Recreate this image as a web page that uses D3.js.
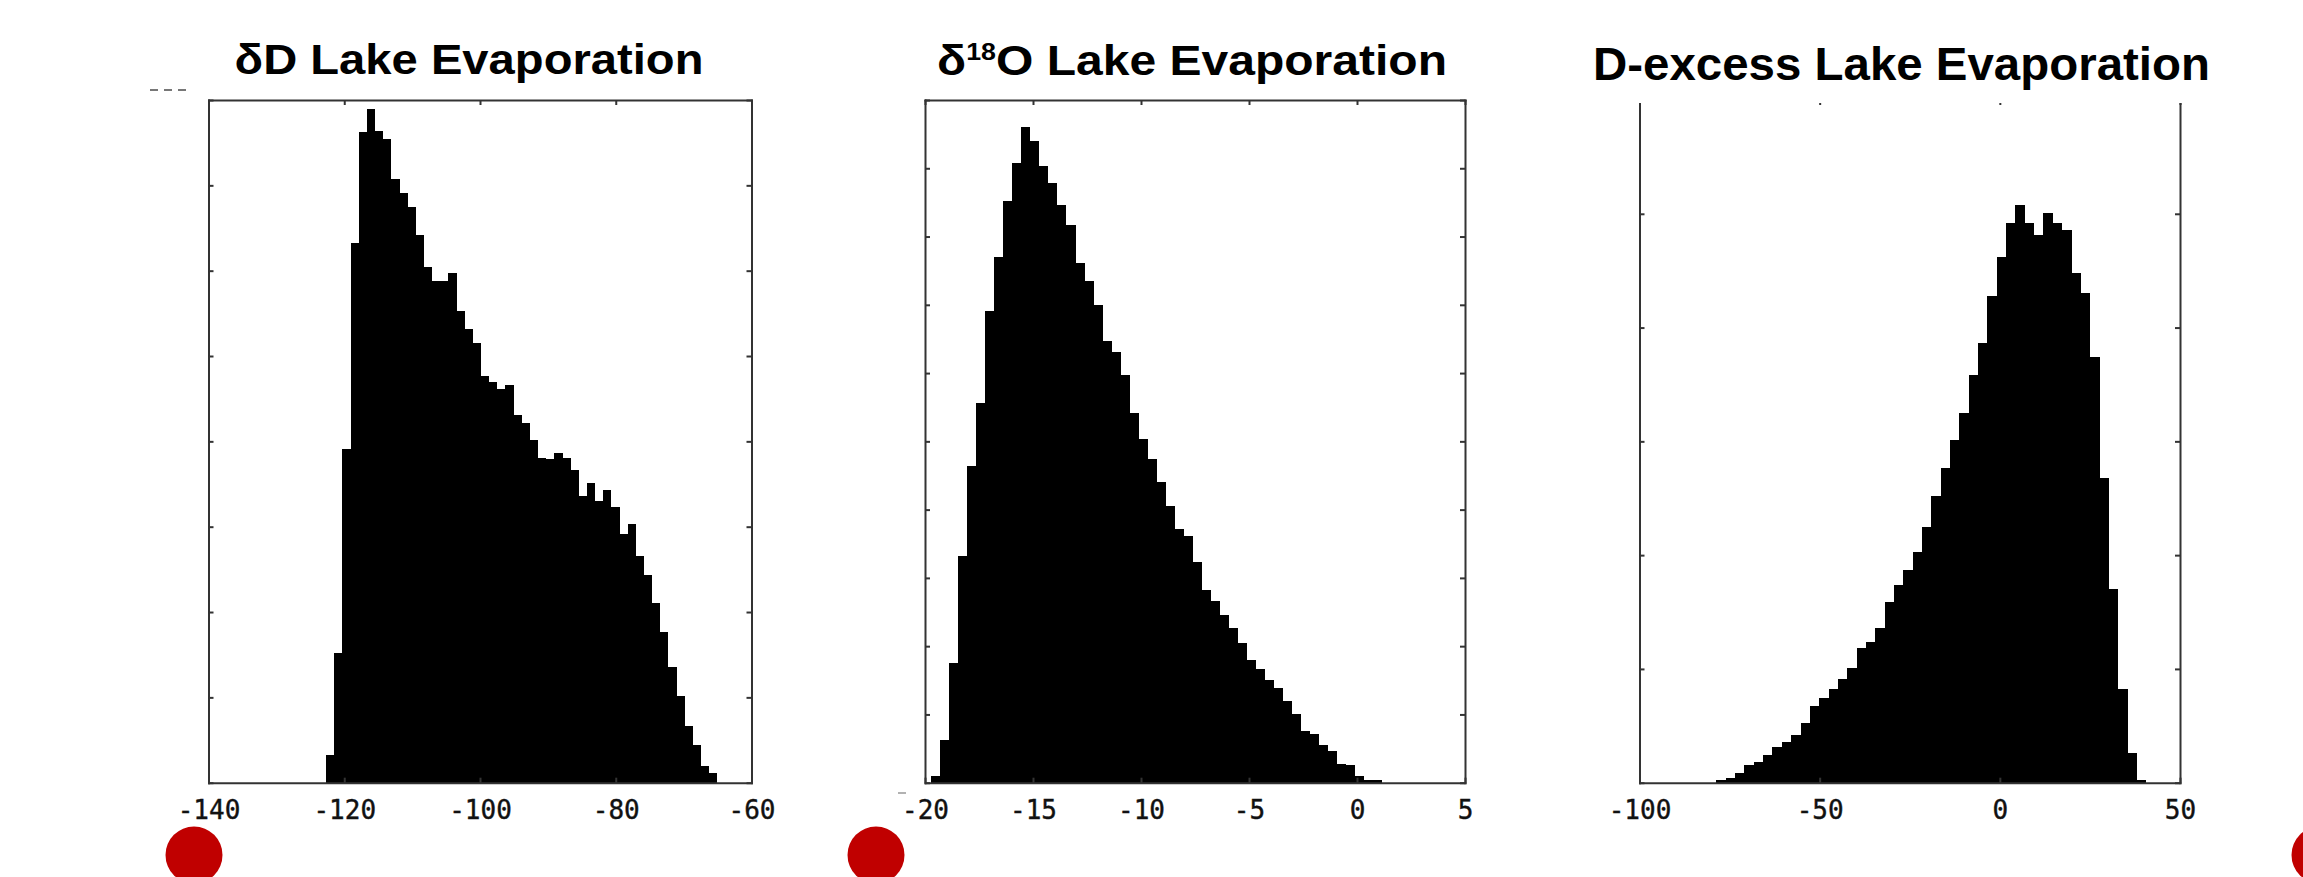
<!DOCTYPE html>
<html lang="en">
<head>
<meta charset="UTF-8">
<title>Lake Evaporation histograms</title>
<script src="https://cdn.jsdelivr.net/npm/d3@7"></script>
<style>
  body { margin: 0; background: #fff; }
  svg { display: block; }
</style>
</head>
<body>
<div id="chart"></div>
<script>
// ---- data (counts per bin) ----
var dDCounts = [320, 1520, 3910, 6320, 7620, 7890, 7640, 7540, 7070, 6910,
                6750, 6420, 6040, 5880, 5880, 5970, 5530, 5320, 5150, 4770,
                4700, 4610, 4660, 4310, 4210, 4020, 3810, 3790, 3860, 3810,
                3670, 3360, 3510, 3300, 3430, 3230, 2920, 3030, 2660, 2430,
                2100, 1770, 1350, 1020, 670, 440, 200, 110];
var dDBin = [-122.66, 1.2007];          // first edge, bin width
var dDXTicks = [-140, -120, -100, -80, -60];
var dDYTicks = [0, 1000, 2000, 3000, 4000, 5000, 6000, 7000, 8000];

var d18OCounts = [100, 630, 1750, 3320, 4640, 5560, 6910, 7700, 8520, 9070,
                  9600, 9400, 9040, 8780, 8460, 8170, 7610, 7350, 6990, 6470,
                  6310, 5970, 5420, 5030, 4740, 4410, 4060, 3710, 3620, 3240,
                  2820, 2660, 2460, 2270, 2040, 1800, 1660, 1510, 1390, 1190,
                  1010, 750, 720, 550, 470, 280, 260, 100, 40, 40];
var d18OBin = [-19.72, 0.418];
var d18OXTicks = [-20, -15, -10, -5, 0, 5];
var d18OYTicks = [0, 1000, 2000, 3000, 4000, 5000, 6000, 7000, 8000, 9000, 10000];

var dexCounts = [24, 44, 83, 156, 185, 243, 316, 360, 419, 522,
                 674, 747, 821, 909, 1011, 1186, 1239, 1362, 1591, 1740,
                 1870, 2030, 2244, 2522, 2768, 3014, 3246, 3580, 3861, 4279,
                 4617, 4916, 5074, 4916, 4810, 5003, 4916, 4860, 4480, 4300,
                 3740, 2680, 1700, 820, 260, 24];
var dexBin = [-78.66, 2.5935];
var dexXTicks = [-100, -50, 0, 50];
var dexYTicks = [0, 1000, 2000, 3000, 4000, 5000, 6000];

var width = 2303, height = 877;

var svg = d3.select("#chart")
            .append("svg")
            .attr("width", width)
            .attr("height", height);

svg.append("rect").attr("width", width).attr("height", height).attr("fill", "#fff");

function drawHist(p) {
    var x = d3.scaleLinear().domain(d3.extent(p.xTicks)).range([p.left, p.right]);
    var y = d3.scaleLinear().domain(d3.extent(p.yTicks)).range([p.bottom, p.top]);
    var g = svg.append("g");

    // bars
    g.selectAll("rect.bar")
        .data(p.counts)
        .enter().append("rect")
        .attr("class", "bar")
        .attr("x", function(d, i) { return x(p.bin[0] + i * p.bin[1]); })
        .attr("width", function(d, i) { return x(p.bin[0] + (i + 1) * p.bin[1]) - x(p.bin[0] + i * p.bin[1]); })
        .attr("y", function(d) { return y(d); })
        .attr("height", function(d) { return y(0) - y(d); })
        .attr("fill", "#000")
        .attr("shape-rendering", "crispEdges");

    var noLabel = function() { return ""; };

    // frame with inward ticks on all four sides
    var axes = [
        [d3.axisTop(x).tickValues(p.xTicks).tickFormat(noLabel), "translate(0," + p.top + ")"],
        [d3.axisLeft(y).tickValues(p.yTicks).tickFormat(noLabel), "translate(" + p.left + ",0)"],
        [d3.axisRight(y).tickValues(p.yTicks).tickFormat(noLabel), "translate(" + p.right + ",0)"],
        [d3.axisBottom(x).tickValues(p.xTicks).tickPadding(18)
            .tickFormat(function(d) { return String(d); }), "translate(0," + p.bottom + ")"]
    ];
    axes.forEach(function(a) {
        var ax = g.append("g")
            .attr("transform", a[1])
            .call(a[0].tickSizeInner(-5).tickSizeOuter(0))
            .attr("color", "#333")
            .attr("font-family", "'DejaVu Sans Mono', monospace")
            .attr("font-size", 26);
        ax.select(".domain").attr("stroke-width", 2).attr("stroke-linecap", "square");
        ax.selectAll(".tick line").attr("stroke-width", 2);
        ax.selectAll(".tick text").attr("fill", "#111")
            .attr("stroke", "#111").attr("stroke-width", 0.4);
    });

    // title box (white background behind text)
    if (p.titleBox) {
        svg.append("rect")
            .attr("x", p.left - 40).attr("y", 0)
            .attr("width", p.right - p.left + 80).attr("height", p.titleBox)
            .attr("fill", "#fff");
    }

    var t = svg.append("text")
        .attr("text-anchor", "middle")
        .attr("font-family", "'Liberation Sans', Arial, sans-serif")
        .attr("font-weight", "bold")
        .attr("font-size", p.titleSize)
        .attr("fill", "#000");
    p.title.forEach(function(part) {
        t.append("tspan")
            .attr("font-size", part.sup ? 24 : null)
            .attr("dy", part.dy || 0)
            .text(part.text);
    });
    var w = t.node().getBBox().width;
    t.attr("transform", "translate(" + p.titleX + "," + p.titleY + ") scale(" + (p.titleW / w) + ",1)");
}

drawHist({
    counts: dDCounts, bin: dDBin, xTicks: dDXTicks, yTicks: dDYTicks,
    left: 208.5, right: 751.5, top: 100, bottom: 782.7,
    title: [{text: "δD Lake Evaporation"}],
    titleX: 469, titleY: 73.5, titleW: 469, titleSize: 43
});

drawHist({
    counts: d18OCounts, bin: d18OBin, xTicks: d18OXTicks, yTicks: d18OYTicks,
    left: 925, right: 1465, top: 100, bottom: 782.7,
    title: [{text: "δ"}, {text: "18", sup: true, dy: -15}, {text: "O Lake Evaporation", dy: 15}],
    titleX: 1192, titleY: 75, titleW: 510, titleSize: 43
});

drawHist({
    counts: dexCounts, bin: dexBin, xTicks: dexXTicks, yTicks: dexYTicks,
    left: 1639.5, right: 2180, top: 100, bottom: 782.7,
    title: [{text: "D-excess Lake Evaporation"}],
    titleX: 1901.5, titleY: 80.3, titleW: 617, titleSize: 46, titleBox: 103
});

// clipped label fragments left over in the figure
svg.append("line")
    .attr("x1", 150).attr("x2", 192).attr("y1", 90).attr("y2", 90)
    .attr("stroke", "#777").attr("stroke-width", 2).attr("stroke-dasharray", "8,6");
svg.append("line")
    .attr("x1", 898).attr("x2", 906).attr("y1", 793).attr("y2", 793)
    .attr("stroke", "#999").attr("stroke-width", 1.5);

// red slide markers
[[194, 855], [876, 855], [2320, 855]].forEach(function(c) {
    svg.append("circle")
        .attr("cx", c[0]).attr("cy", c[1]).attr("r", 28.5)
        .attr("fill", "#c00000");
});
</script>
</body>
</html>
